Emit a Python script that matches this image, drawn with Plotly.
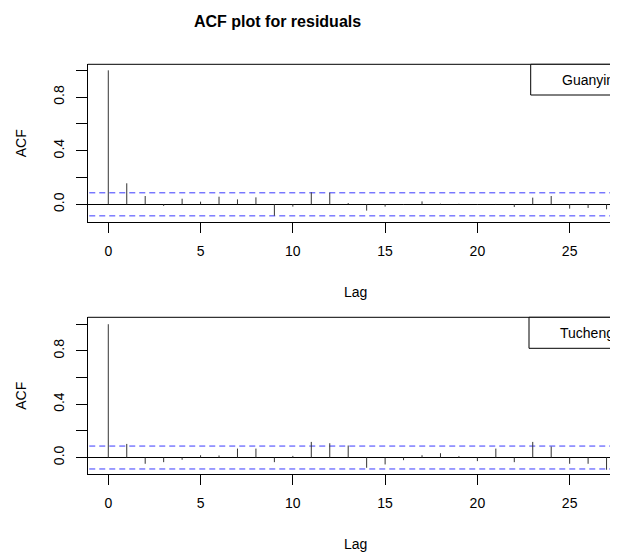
import plotly.graph_objects as go

# ---------------- data ----------------
lags = list(range(0, 28))
acf_guanyin = [1.0, 0.157, 0.062, -0.012, 0.042, 0.020, 0.057, 0.037, 0.052, -0.085,
               -0.017, 0.090, 0.087, 0.010, -0.047, -0.017, -0.005, 0.022, 0.005, 0.004,
               -0.005, 0.003, -0.020, 0.050, 0.062, -0.032, -0.027, -0.037]
acf_tucheng = [1.0, 0.102, -0.047, -0.035, -0.017, 0.017, 0.015, 0.067, 0.067, -0.035,
               0.012, 0.117, 0.107, 0.090, -0.077, -0.052, -0.020, 0.017, 0.032, 0.010,
               -0.027, 0.067, -0.035, 0.117, 0.082, -0.047, -0.047, -0.092]
conf_limit = 0.086
panel_names = ["Guanyin", "Tucheng"]
x_ticks = [0, 5, 10, 15, 20, 25]
y_ticks = [0.0, 0.2, 0.4, 0.6, 0.8, 1.0]
y_ticktext = ["0.0", "", "0.4", "", "0.8", ""]

# page body has an 8px default margin; lay out in window pixels and convert
OFF = 8
WIN_W, WIN_H = 618, 554
W, H = WIN_W - OFF, WIN_H - OFF
def px(x):
    return (x - OFF) / W
def py(y):
    return 1 - (y - OFF) / H

FONT = "Liberation Sans, Arial, Helvetica, sans-serif"
fig = go.Figure()

panels = [
    dict(vals=acf_guanyin, name=panel_names[0], top=64.3, bottom=222.3,
         yrange=[-0.134, 1.045], xa="x", ya="y", leg=(530.7, 95.0, 560, 80)),
    dict(vals=acf_tucheng, name=panel_names[1], top=317.3, bottom=474.3,
         yrange=[-0.126, 1.052], xa="x2", ya="y2", leg=(529.0, 348.3, 558, 333)),
]

left_px = 87.7
xrange = [-1.116, 27.62]

layout_axes = {}
for i, p in enumerate(panels):
    # confidence limits (dashed blue)
    for c in (conf_limit, -conf_limit):
        fig.add_trace(go.Scatter(x=[xrange[0] - 1, xrange[1] + 1], y=[c, c], mode="lines",
                                 xaxis=p["xa"], yaxis=p["ya"], showlegend=False,
                                 hoverinfo="skip", cliponaxis=True,
                                 line=dict(color="#3a3aff", width=1, dash="6px,4px")))
    xs, ys = [], []
    for lag, v in zip(lags, p["vals"]):
        xs += [lag, lag, None]
        ys += [0, v, None]
    fig.add_trace(go.Scatter(x=xs, y=ys, mode="lines", xaxis=p["xa"], yaxis=p["ya"],
                             line=dict(color="#333333", width=1), showlegend=False,
                             hoverinfo="skip"))
    sfx = "" if i == 0 else "2"
    layout_axes["xaxis" + sfx] = dict(
        domain=[px(left_px), 1.0], range=xrange, tickvals=x_ticks,
        ticks="outside", ticklen=10, tickcolor="black", tickwidth=1,
        showline=True, linecolor="black", linewidth=1, mirror=False,
        showgrid=False, zeroline=False, anchor=p["ya"],
        tickfont=dict(family=FONT, size=14, color="black"),
        ticklabelstandoff=6,
    )
    layout_axes["yaxis" + sfx] = dict(
        domain=[py(p["bottom"]), py(p["top"])], range=p["yrange"],
        tickvals=y_ticks, ticktext=y_ticktext, tickangle=-90,
        ticks="outside", ticklen=11, tickcolor="black", tickwidth=1,
        showline=True, linecolor="black", linewidth=1, mirror=False,
        showgrid=False, zeroline=True, zerolinecolor="black", zerolinewidth=1,
        anchor=p["xa"],
        tickfont=dict(family=FONT, size=14, color="black"),
        ticklabelstandoff=6,
    )

fig.update_layout(**layout_axes)

shapes = []
annotations = []
for i, p in enumerate(panels):
    shapes.append(dict(type="line", xref="paper", yref="paper",
                       x0=px(left_px), x1=1.0, y0=py(p["top"]), y1=py(p["top"]),
                       line=dict(color="black", width=1)))
    lx, lb, tx, ty = p["leg"]
    shapes.append(dict(type="rect", xref="paper", yref="paper",
                       x0=px(lx), x1=px(WIN_W + 20), y0=py(lb), y1=py(p["top"]),
                       line=dict(color="black", width=1), fillcolor="white"))
    annotations.append(dict(text=p["name"], xref="paper", yref="paper",
                            x=px(tx), y=py(ty), xanchor="left", yanchor="middle",
                            showarrow=False, font=dict(family=FONT, size=14, color="black")))
    annotations.append(dict(text="ACF", xref="paper", yref="paper",
                            x=px(21), y=py((p["top"] + p["bottom"]) / 2),
                            xanchor="center", yanchor="middle", textangle=-90,
                            showarrow=False, font=dict(family=FONT, size=14, color="black")))
    annotations.append(dict(text="Lag", xref="paper", yref="paper",
                            x=px(355.8), y=py(p["bottom"] + 70),
                            xanchor="center", yanchor="middle",
                            showarrow=False, font=dict(family=FONT, size=14, color="black")))

annotations.append(dict(text="<b>ACF plot for residuals</b>", xref="paper", yref="paper",
                        x=px(277), y=py(21), xanchor="center", yanchor="middle",
                        showarrow=False, font=dict(family=FONT, size=16, color="black")))

fig.update_layout(width=W, height=H, margin=dict(l=0, r=0, t=0, b=0),
                  paper_bgcolor="white", plot_bgcolor="white",
                  shapes=shapes, annotations=annotations, showlegend=False)

fig.write_html("out.html")
